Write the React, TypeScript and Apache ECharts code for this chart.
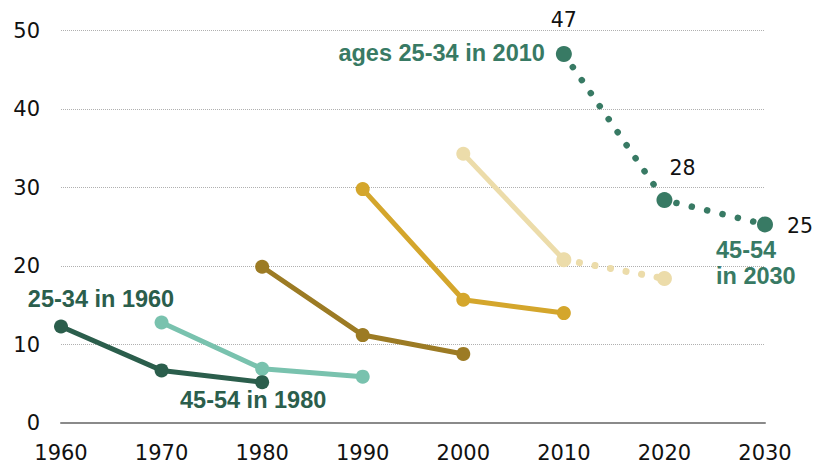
import React, { useEffect, useRef } from "react";
import * as echarts from "echarts";

// Tick labels
const xTicks = [1960, 1970, 1980, 1990, 2000, 2010, 2020, 2030];
const yTicks = [0, 10, 20, 30, 40, 50];

// Cohort series (year, value)
const c1960Years = [1960, 1970, 1980];
const c1960Values = [12.3, 6.7, 5.2];

const c1970Years = [1970, 1980, 1990];
const c1970Values = [12.8, 6.9, 5.9];

const c1980Years = [1980, 1990, 2000];
const c1980Values = [19.9, 11.2, 8.8];

const c1990Years = [1990, 2000, 2010];
const c1990Values = [29.8, 15.7, 14.0];

const c2000Years = [2000, 2010];
const c2000Values = [34.3, 20.8];
const c2000ProjYears = [2010, 2020];
const c2000ProjValues = [20.8, 18.4];

const c2010Years = [2010, 2020, 2030];
const c2010Values = [47.0, 28.4, 25.3];

// Annotation texts
const note1960 = "25-34 in 1960";
const note1980 = "45-54 in 1980";
const note2010 = "ages 25-34 in 2010";
const note2030 = "45-54\nin 2030";

const C_DARK = "#2b5e4c";
const C_TEAL = "#79c2ae";
const C_DGOLD = "#9c7b24";
const C_GOLD = "#d4a62c";
const C_BEIGE = "#ecdcaa";
const C_GREEN = "#387a64";

const pairs = (xs: number[], ys: number[]) => xs.map((x, i) => [x, ys[i]]);

const BOLD = "'Liberation Sans', Arial, sans-serif";
const REG = "'DejaVu Sans', sans-serif";

const noteLabel = (text: string, color: string, offset: number[], align = "center", extra: any = {}) => ({
  show: true,
  position: "inside",
  formatter: text,
  color,
  fontFamily: BOLD,
  fontWeight: "bold",
  fontSize: 23.5,
  align,
  verticalAlign: "middle",
  offset,
  ...extra,
});

export default function App() {
  const ref = useRef<HTMLDivElement>(null);
  useEffect(() => {
    if (!ref.current) return;
    const chart = echarts.init(ref.current, null, { renderer: "svg" });

    const solid = (name: string, data: number[][], color: string, extra: any = {}) => ({
      name,
      type: "line",
      data,
      symbol: "circle",
      symbolSize: 14,
      showSymbol: true,
      lineStyle: { width: 5, color },
      itemStyle: { color },
      emphasis: { disabled: true },
      ...extra,
    });

    const valueLabels: any[] = [
      { offset: [0, -34] },
      { offset: [18, -32] },
      { offset: [35, 2] },
    ];

    const greenData = pairs(c2010Years, c2010Values).map((p, i) => ({
      value: p,
      label: {
        show: true,
        position: "inside",
        formatter: (d: any) => String(Math.round(d.value[1])),
        color: "#111",
        fontFamily: REG,
        fontSize: 20.5,
        align: "center",
        verticalAlign: "middle",
        ...valueLabels[i],
      },
    }));

    chart.setOption({
      animation: false,
      grid: { left: 61, right: 64, top: 30.5, bottom: 41 },
      xAxis: {
        type: "value",
        min: xTicks[0],
        max: xTicks[xTicks.length - 1],
        interval: 10,
        axisLine: { show: true, lineStyle: { color: "#8a8a8a", width: 2 } },
        axisTick: { show: false },
        splitLine: { show: false },
        axisLabel: {
          formatter: (v: number) => String(v),
          color: "#111",
          fontFamily: REG,
          fontSize: 21,
          margin: 19,
        },
      },
      yAxis: {
        type: "value",
        min: yTicks[0],
        max: yTicks[yTicks.length - 1],
        interval: 10,
        axisLine: { show: false },
        axisTick: { show: false },
        splitLine: {
          show: true,
          lineStyle: { color: "#b0b0b0", width: 1, type: [1, 1] },
        },
        axisLabel: {
          color: "#111",
          fontFamily: REG,
          fontSize: 21,
          margin: 21,
          formatter: (v: number) => String(v),
        },
      },
      series: [
        solid("c1960", pairs(c1960Years, c1960Values), C_DARK, {
          z: 3,
          markPoint: {
            symbol: "circle",
            symbolSize: 0,
            data: [
              { coord: [c1960Years[0], c1960Values[0]], label: noteLabel(note1960, C_DARK, [40, -27]) },
              { coord: [c1960Years[2], c1960Values[2]], label: noteLabel(note1980, C_DARK, [-9, 18]) },
            ],
          },
        }),
        solid("c1970", pairs(c1970Years, c1970Values), C_TEAL, { z: 2 }),
        solid("c1980", pairs(c1980Years, c1980Values), C_DGOLD),
        solid("c1990", pairs(c1990Years, c1990Values), C_GOLD),
        solid("c2000", pairs(c2000Years, c2000Values), C_BEIGE),
        {
          name: "c2000proj",
          type: "line",
          data: pairs(c2000ProjYears, c2000ProjValues),
          symbol: "circle",
          symbolSize: 15,
          lineStyle: { width: 7, color: C_BEIGE, type: [0.1, 15.7], cap: "round" },
          itemStyle: { color: C_BEIGE },
          emphasis: { disabled: true },
        },
        {
          name: "c2010",
          type: "line",
          data: greenData,
          symbol: "circle",
          symbolSize: 16,
          lineStyle: { width: 6.5, color: C_GREEN, type: [0.1, 15.7], cap: "round" },
          itemStyle: { color: C_GREEN },
          emphasis: { disabled: true },
          z: 4,
          markPoint: {
            symbol: "circle",
            symbolSize: 0,
            data: [
              { coord: [c2010Years[0], c2010Values[0]], label: noteLabel(note2010, C_GREEN, [-19, -1], "right") },
              {
                coord: [c2010Years[2], c2010Values[2]],
                label: noteLabel(note2030, C_GREEN, [-49, 39], "left", { lineHeight: 26 }),
              },
            ],
          },
        },
      ],
    });
    return () => chart.dispose();
  }, []);

  return (
    <div
      ref={ref}
      style={{ position: "fixed", left: 0, top: 0, width: 829, height: 464, background: "#fff" }}
    />
  );
}
